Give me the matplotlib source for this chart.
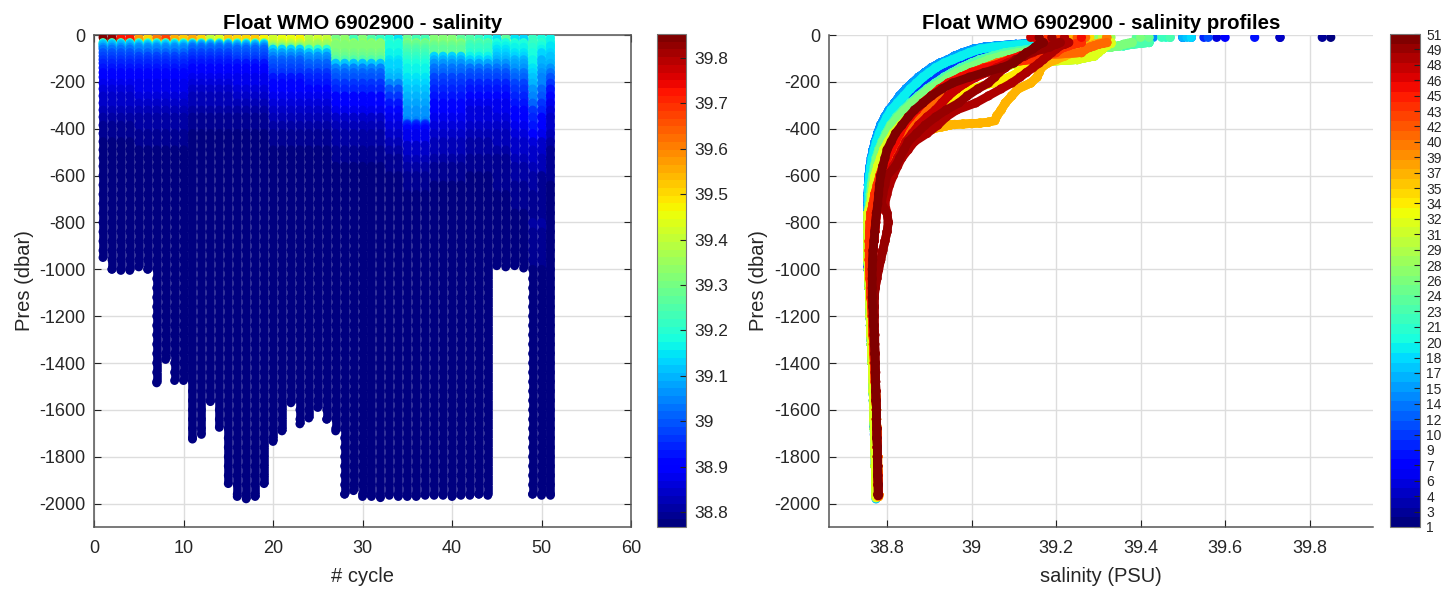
import matplotlib
matplotlib.use("Agg")
import matplotlib.pyplot as plt
from matplotlib.cm import ScalarMappable
from matplotlib.collections import LineCollection
from matplotlib.colors import Normalize

plt.rcParams['font.family'] = ['Liberation Sans', 'DejaVu Sans']
plt.rcParams['axes.unicode_minus'] = False

cycles = list(range(1, 52))
max_pres = [950, 1000, 1005, 1005, 990, 1000, 1485, 1385, 1475, 1475, 1725, 1705, 1565, 1675, 1915,
            1970, 1980, 1970, 1915, 1735, 1690, 1570, 1660, 1635, 1590, 1640, 1690, 1960, 1945, 1970,
            1970, 1975, 1965, 1970, 1970, 1970, 1965, 1965, 1965, 1970, 1965, 1965, 1960, 1965, 985,
            990, 985, 995, 1960, 1965, 1965]
surface_pres = 10
sal_surface = [39.85, 39.83, 39.73, 39.73, 39.58, 39.50, 39.60, 39.67, 39.55, 39.52, 39.56, 39.50, 39.40,
               39.43, 39.52, 39.50, 39.51, 39.52, 39.47, 39.42, 39.46, 39.45, 39.47, 39.39, 39.42, 39.40,
               39.30, 39.33, 39.24, 39.31, 39.25, 39.21, 39.19, 39.15, 39.28, 39.23, 39.23, 39.32, 39.32,
               39.32, 39.27, 39.25, 39.21, 39.18, 39.15, 39.26, 39.15, 39.14, 39.22, 39.19, 39.16]

pres_upper = [32, 36, 40, 46, 52, 60, 75, 90, 105, 120, 140, 160, 180, 205, 230, 260, 290, 320, 350, 385,
              420, 455, 490, 525, 560, 600, 640, 680, 720]
sal_a = [39.25, 39.15, 39.12, 39.09, 39.06, 39.03, 39.00, 38.98, 38.96, 38.945, 38.925, 38.91, 38.895, 38.88,
         38.865, 38.85, 38.835, 38.825, 38.81, 38.80, 38.79, 38.783, 38.777, 38.772, 38.767, 38.763, 38.76, 38.758, 38.757]
sal_b = [39.28, 39.17, 39.13, 39.10, 39.07, 39.04, 39.01, 38.985, 38.965, 38.95, 38.93, 38.915, 38.90, 38.885,
         38.87, 38.852, 38.838, 38.826, 38.812, 38.802, 38.792, 38.785, 38.778, 38.773, 38.768, 38.764, 38.761, 38.759, 38.758]
sal_c = [39.26, 39.15, 39.105, 39.06, 39.03, 39.005, 38.98, 38.96, 38.945, 38.925, 38.905, 38.89, 38.875, 38.86,
         38.845, 38.83, 38.818, 38.805, 38.795, 38.785, 38.778, 38.772, 38.767, 38.763, 38.76, 38.757, 38.756, 38.755, 38.755]
sal_d = [39.30, 39.17, 39.12, 39.08, 39.05, 39.02, 38.995, 38.975, 38.955, 38.935, 38.915, 38.90, 38.885, 38.87,
         38.855, 38.84, 38.825, 38.81, 38.80, 38.79, 38.782, 38.775, 38.77, 38.765, 38.762, 38.759, 38.757, 38.756, 38.756]
sal_e = [39.42, 39.40, 39.38, 39.36, 39.30, 39.14, 39.08, 39.05, 39.02, 39.00, 38.975, 38.955, 38.935, 38.915,
         38.895, 38.875, 38.855, 38.838, 38.822, 38.808, 38.797, 38.788, 38.78, 38.774, 38.77, 38.766, 38.763, 38.76, 38.759]
sal_f = [39.38, 39.37, 39.36, 39.35, 39.33, 39.20, 39.11, 39.07, 39.04, 39.02, 38.99, 38.965, 38.945, 38.925,
         38.90, 38.88, 38.86, 38.842, 38.826, 38.81, 38.80, 38.79, 38.782, 38.776, 38.772, 38.768, 38.764, 38.762, 38.76]
sal_g = [39.33, 39.33, 39.32, 39.32, 39.31, 39.31, 39.30, 39.29, 39.25, 39.12, 39.05, 39.02, 38.99, 38.965,
         38.94, 38.915, 38.89, 38.87, 38.85, 38.832, 38.815, 38.803, 38.792, 38.785, 38.778, 38.772, 38.768, 38.765, 38.762]
sal_h = [39.20, 39.20, 39.19, 39.19, 39.18, 39.18, 39.17, 39.16, 39.15, 39.14, 39.13, 39.11, 39.09, 39.05,
         39.00, 38.96, 38.93, 38.905, 38.88, 38.86, 38.84, 38.825, 38.81, 38.80, 38.79, 38.782, 38.776, 38.77, 38.766]
sal_j = [39.32, 39.31, 39.30, 39.29, 39.28, 39.27, 39.26, 39.14, 39.09, 39.06, 39.03, 39.005, 38.985, 38.965,
         38.945, 38.925, 38.905, 38.89, 38.875, 38.86, 38.845, 38.832, 38.82, 38.81, 38.80, 38.79, 38.782, 38.774, 38.768]
sal_k = [39.26, 39.25, 39.24, 39.23, 39.22, 39.21, 39.20, 39.17, 39.14, 39.08, 39.03, 39.00, 38.975, 38.95,
         38.925, 38.905, 38.885, 38.868, 38.852, 38.838, 38.825, 38.815, 38.805, 38.797, 38.79, 38.783, 38.777, 38.771, 38.767]
sal_l = [39.23, 39.225, 39.22, 39.21, 39.205, 39.20, 39.19, 39.18, 39.17, 39.16, 39.145, 39.13, 39.115, 39.095,
         39.07, 39.04, 39.01, 38.965, 38.94, 38.92, 38.895, 38.865, 38.85, 38.835, 38.825, 38.815, 38.806, 38.80, 38.795]
sal_m = [39.19, 39.185, 39.18, 39.17, 39.16, 39.15, 39.135, 39.115, 39.09, 39.07, 39.035, 39.00, 38.975, 38.945,
         38.925, 38.905, 38.885, 38.87, 38.855, 38.84, 38.83, 38.82, 38.81, 38.80, 38.795, 38.79, 38.785, 38.78, 38.78]
sal_n = [39.17, 39.165, 39.16, 39.155, 39.15, 39.145, 39.13, 39.12, 39.11, 39.10, 39.07, 39.03, 38.995, 38.955,
         38.93, 38.905, 38.885, 38.865, 38.85, 38.835, 38.82, 38.81, 38.80, 38.795, 38.79, 38.785, 38.782, 38.78, 38.778]
sal_p = [39.20, 39.195, 39.19, 39.18, 39.17, 39.16, 39.145, 39.125, 39.105, 39.085, 39.06, 39.035, 39.01, 38.985,
         38.965, 38.945, 38.93, 38.915, 38.895, 38.875, 38.86, 38.845, 38.835, 38.825, 38.815, 38.808, 38.80, 38.795, 38.79]
sal_q = [39.21, 39.205, 39.20, 39.19, 39.185, 39.17, 39.14, 39.125, 39.105, 39.095, 39.08, 39.065, 39.055, 39.04,
         39.015, 38.99, 38.97, 38.94, 38.915, 38.89, 38.87, 38.85, 38.84, 38.83, 38.82, 38.80, 38.795, 38.79, 38.787]

pres_bump = [32, 36, 40, 46, 52, 60, 75, 90, 105, 120, 140, 160, 180, 205, 230, 260, 290, 320, 345, 365, 372,
             376, 378, 380, 382, 384, 388, 392, 400, 420, 440, 470, 500, 530, 560, 600, 640, 680, 720]
sal_bump = [39.31, 39.30, 39.29, 39.28, 39.27, 39.25, 39.24, 39.22, 39.20, 39.18, 39.165, 39.16, 39.155, 39.14,
            39.11, 39.095, 39.08, 39.07, 39.06, 39.055, 39.04, 39.02, 39.00, 38.98, 38.96, 38.95, 38.94, 38.93,
            38.91, 38.885, 38.87, 38.85, 38.835, 38.82, 38.81, 38.795, 38.785, 38.775, 38.768]

pres_deep = [760, 800, 840, 880, 920, 960, 1000, 1040, 1080, 1120, 1160, 1200, 1240, 1280, 1320, 1360, 1400,
             1440, 1480, 1520, 1560, 1600, 1640, 1680, 1720, 1760, 1800, 1840, 1880, 1920, 1960]
sal_deep_early = [38.755, 38.755, 38.755, 38.755, 38.755, 38.755, 38.756, 38.757, 38.758, 38.759, 38.760, 38.760,
                  38.761, 38.762, 38.763, 38.764, 38.765, 38.766, 38.767, 38.767, 38.768, 38.769, 38.769, 38.770,
                  38.771, 38.771, 38.772, 38.772, 38.773, 38.773, 38.774]
sal_deep_warm = [38.762, 38.760, 38.759, 38.758, 38.758, 38.758, 38.759, 38.760, 38.761, 38.762, 38.764, 38.765,
                 38.766, 38.767, 38.768, 38.769, 38.770, 38.771, 38.772, 38.773, 38.774, 38.775, 38.775, 38.776,
                 38.777, 38.777, 38.778, 38.778, 38.779, 38.779, 38.780]
sal_deep_late = [38.775, 38.773, 38.771, 38.769, 38.767, 38.766, 38.765, 38.765, 38.765, 38.765, 38.766, 38.767,
                 38.768, 38.769, 38.770, 38.771, 38.772, 38.772, 38.773, 38.773, 38.774, 38.775, 38.775, 38.776,
                 38.776, 38.777, 38.777, 38.778, 38.778, 38.779, 38.779]
sal_deep_wobble = [38.800, 38.803, 38.80, 38.795, 38.79, 38.785, 38.78, 38.776, 38.772, 38.770, 38.770, 38.770,
                   38.770, 38.771, 38.771, 38.772, 38.772, 38.773, 38.773, 38.774, 38.774, 38.775, 38.775, 38.776,
                   38.776, 38.777, 38.777, 38.778, 38.778, 38.779, 38.779]

# cycle numbers belonging to each read-off profile family
families = [
    (range(1, 5), pres_upper, sal_a, sal_deep_early),
    (range(5, 11), pres_upper, sal_b, sal_deep_early),
    (range(11, 16), pres_upper, sal_c, sal_deep_early),
    (range(16, 20), pres_upper, sal_d, sal_deep_early),
    (range(20, 24), pres_upper, sal_e, sal_deep_early),
    (range(24, 27), pres_upper, sal_f, sal_deep_early),
    (range(27, 33), pres_upper, sal_g, sal_deep_early),
    (range(33, 35), pres_upper, sal_h, sal_deep_warm),
    (range(35, 38), pres_bump, sal_bump, sal_deep_warm),
    (range(38, 42), pres_upper, sal_j, sal_deep_warm),
    (range(42, 45), pres_upper, sal_k, sal_deep_warm),
    (range(45, 47), pres_upper, sal_m, sal_deep_late),
    (range(47, 49), pres_upper, sal_p, sal_deep_late),
    (range(49, 50), pres_upper, sal_l, sal_deep_wobble),
    (range(50, 51), pres_upper, sal_q, sal_deep_wobble),
    (range(51, 52), pres_upper, sal_n, sal_deep_late),
]

cb1_ticks = [38.8, 38.9, 39, 39.1, 39.2, 39.3, 39.4, 39.5, 39.6, 39.7, 39.8]
cb1_labels = ['38.8', '38.9', '39', '39.1', '39.2', '39.3', '39.4', '39.5', '39.6', '39.7', '39.8']
cb2_labels = [1, 3, 4, 6, 7, 9, 10, 12, 14, 15, 17, 18, 20, 21, 23, 24, 26, 28, 29, 31, 32, 34, 35, 37, 39, 40,
              42, 43, 45, 46, 48, 49, 51]
sal_ticks = [38.8, 39, 39.2, 39.4, 39.6, 39.8]
sal_tick_labels = ['38.8', '39', '39.2', '39.4', '39.6', '39.8']
pres_ticks = [0, -200, -400, -600, -800, -1000, -1200, -1400, -1600, -1800, -2000]
cycle_ticks = [0, 10, 20, 30, 40, 50, 60]

W, H = 1455, 589
fig = plt.figure(figsize=(W / 100, H / 100), dpi=100, facecolor='white')


def add_axes(x0, y0, x1, y1):
    return fig.add_axes([x0 / W, 1 - y1 / H, (x1 - x0) / W, (y1 - y0) / H])


ax1 = add_axes(94, 35, 631, 527)
ax2 = add_axes(828.5, 35, 1373, 527)
cax1 = add_axes(657, 34, 686, 527)
cax2 = add_axes(1389.5, 34, 1420, 527)

cmap1 = plt.get_cmap('jet', 64)
cmap2 = plt.get_cmap('jet', 51)
norm1 = Normalize(38.767, 39.853)
norm2 = Normalize(1, 51)


def profile(cycle):
    for members, pu, su, sd in families:
        if cycle in members:
            limit = max_pres[cycle - 1]
            pres = [surface_pres] + list(pu)
            sal = [sal_surface[cycle - 1]] + list(su)
            for p, s in zip(pres_deep, sd):
                if p <= limit:
                    pres.append(p)
                    sal.append(s)
            pres.append(limit)
            sal.append(sal[-1])
            return pres, sal


LW = 6.2
for c in cycles:
    pres, sal = profile(c)
    neg = [-p for p in pres]
    segs = [[(c, neg[i]), (c, neg[i + 1])] for i in range(len(neg) - 1)]
    ax1.add_collection(LineCollection(segs, colors=[cmap1(norm1(s)) for s in sal[:-1]], linewidths=LW,
                                      capstyle='butt', zorder=3))
    ax1.scatter([c] * len(pres), neg, c=sal, cmap=cmap1, norm=norm1, s=40, linewidths=0, zorder=3)
    ax2.plot(sal[1:], neg[1:], color=cmap2(norm2(c)), linewidth=LW, solid_capstyle='round',
             solid_joinstyle='round', zorder=3)
    ax2.scatter(sal, neg, c=[c] * len(pres), cmap=cmap2, norm=norm2, s=44, linewidths=0, zorder=3)

GRID = '#dddddd'
SPINE = '#555555'
for ax in (ax1, ax2):
    ax.set_ylim(-2100, 0)
    ax.set_yticks(pres_ticks)
    ax.grid(True, color=GRID, linewidth=1.0, zorder=0)
    ax.set_axisbelow(True)
    ax.tick_params(direction='in', length=5, width=0.8, color='#222222', labelsize=13,
                   labelcolor='#262626')
    ax.tick_params(axis='y', pad=6)
    ax.tick_params(axis='x', pad=9.5)
    for sp in ax.spines.values():
        sp.set_color(SPINE)
        sp.set_linewidth(1.1)

ax1.set_xlim(0, 60)
ax1.set_xticks(cycle_ticks)
ax1.tick_params(top=True, right=True)
ax1.set_xlabel('# cycle', fontsize=14.5, color='#262626', labelpad=7)
ax1.set_ylabel('Pres (dbar)', fontsize=14.5, color='#262626', labelpad=4)
ax1.set_title('Float WMO 6902900 - salinity', fontsize=14.7, fontweight='bold', pad=4)

ax2.set_xlim(38.6615, 39.95)
ax2.set_xticks(sal_ticks)
ax2.set_xticklabels(sal_tick_labels)
ax2.spines['top'].set_visible(False)
ax2.spines['right'].set_visible(False)
ax2.set_xlabel('salinity (PSU)', fontsize=14.5, color='#262626', labelpad=7)
ax2.set_ylabel('Pres (dbar)', fontsize=14.5, color='#262626', labelpad=4)
ax2.set_title('Float WMO 6902900 - salinity profiles', fontsize=14.7, fontweight='bold', pad=4)

cb1 = fig.colorbar(ScalarMappable(norm=norm1, cmap=cmap1), cax=cax1)
cb1.set_ticks(cb1_ticks)
cb1.set_ticklabels(cb1_labels)
cb1.ax.tick_params(direction='in', length=4, width=0.8, color='#222222', labelsize=12.5, labelcolor='#262626', pad=6)

cb2 = fig.colorbar(ScalarMappable(norm=norm2, cmap=cmap2), cax=cax2)
cb2_pos = [1 + i * 50 / 32 for i in range(len(cb2_labels))]
cb2.set_ticks(cb2_pos)
cb2.set_ticklabels([str(v) for v in cb2_labels])
cb2.ax.tick_params(direction='in', length=4, width=0.8, color='#222222', labelsize=10, labelcolor='#262626', pad=4.5)
for cb in (cb1, cb2):
    cb.outline.set_edgecolor('#777777')
    cb.outline.set_linewidth(0.8)
    cb.ax.minorticks_off()

fig.savefig('out.png', dpi=100)
